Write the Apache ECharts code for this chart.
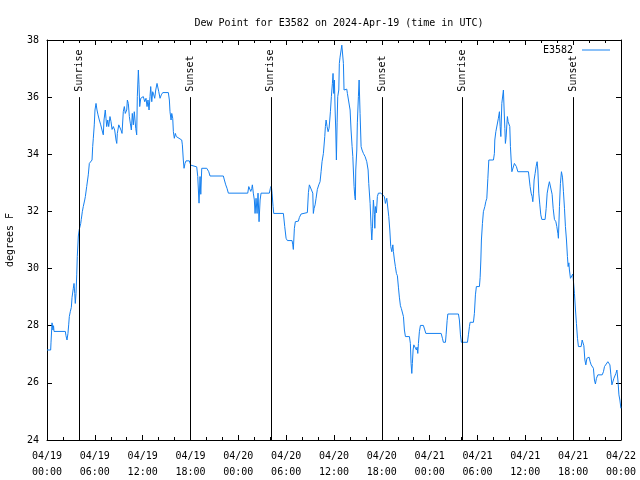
<!DOCTYPE html>
<html>
<head>
<meta charset="utf-8">
<script src="https://cdn.jsdelivr.net/npm/echarts@6/dist/echarts.min.js"></script>
<style>
html,body{margin:0;padding:0;background:#fff;}
#chart{width:640px;height:480px;}
</style>
</head>
<body>
<div id="chart"></div>
<script>
// ---- data ----
const titleText = 'Dew Point for E3582 on 2024-Apr-19 (time in UTC)';
const seriesName = 'E3582';
const yAxisName = 'degrees F';
// x tick labels every 6 hours from 2024-04-19 00:00 UTC
const tickLabels = ['04/19\n00:00','04/19\n06:00','04/19\n12:00','04/19\n18:00',
  '04/20\n00:00','04/20\n06:00','04/20\n12:00','04/20\n18:00',
  '04/21\n00:00','04/21\n06:00','04/21\n12:00','04/21\n18:00','04/22\n00:00'];
// sun events (hours since 04/19 00:00 UTC)
const sunNames = ['Sunrise','Sunset','Sunrise','Sunset','Sunrise','Sunset'];
const sunHours = [4.05, 17.98, 28.08, 42.03, 52.08, 66.04];
// observation times (hours since 04/19 00:00 UTC)
const hours = [0,0.46,0.5,0.63,0.75,0.82,0.88,2.3,2.38,2.51,2.63,2.72,2.8,2.92,3.05,3.14,3.3,3.39,3.48,3.55,3.64,3.73,3.8,3.93,4.05,4.23,4.3,4.43,4.55,4.73,4.81,4.98,5.18,5.31,5.65,5.73,5.81,5.93,6.02,6.15,6.27,6.4,6.56,6.74,6.9,7.06,7.15,7.31,7.4,7.49,7.62,7.74,7.9,8.03,8.16,8.32,8.49,8.66,8.75,8.82,9.0,9.16,9.28,9.41,9.57,9.7,9.82,10.0,10.08,10.2,10.33,10.45,10.58,10.7,10.83,10.95,11.13,11.25,11.33,11.46,11.54,11.63,11.76,11.92,12.08,12.26,12.42,12.55,12.67,12.8,12.92,13.01,13.14,13.26,13.39,13.51,13.64,13.8,13.93,14.02,14.18,14.34,14.52,15.22,15.35,15.43,15.56,15.65,15.77,15.85,15.97,16.1,16.22,16.9,16.98,17.1,17.19,17.31,17.44,17.85,18.03,18.19,18.78,18.91,19.07,19.2,19.29,19.41,20.04,20.29,20.45,22.12,22.25,22.42,22.58,22.75,25.18,25.31,25.43,25.56,25.68,25.76,25.88,26.01,26.1,26.22,26.35,26.47,26.6,26.73,26.85,27.89,28.02,28.14,28.23,28.36,28.44,29.65,29.82,29.99,30.15,30.74,30.83,30.9,31.03,31.15,31.53,31.66,31.87,31.99,32.66,32.79,32.91,33.16,33.34,33.41,33.5,33.63,33.75,33.91,34.09,34.25,34.38,34.5,34.67,34.84,34.92,35.01,35.13,35.26,35.38,35.47,35.55,35.67,35.8,35.88,35.97,36.05,36.14,36.22,36.3,36.39,36.47,36.6,36.67,36.76,36.89,36.98,37.1,37.18,37.26,37.39,37.6,37.68,37.85,38.02,38.14,38.27,38.36,38.43,38.52,38.61,38.68,38.73,38.86,38.93,39.06,39.15,39.27,39.4,39.52,39.69,39.9,40.11,40.28,40.36,40.53,40.65,40.74,40.82,40.94,41.07,41.12,41.19,41.32,41.44,41.57,41.69,41.87,42.12,42.32,42.45,42.62,42.75,42.87,43.0,43.12,43.25,43.38,43.45,43.58,43.7,43.83,43.95,44.08,44.2,44.33,44.45,44.58,44.71,44.83,44.96,45.46,45.58,45.67,45.76,45.83,45.92,46.01,46.26,46.34,46.42,46.51,46.59,46.71,46.84,47.21,47.39,47.52,49.44,49.6,49.72,49.98,50.06,50.19,50.28,51.61,51.73,51.86,51.98,52.74,52.86,52.99,53.07,53.49,53.61,53.74,53.86,54.24,54.33,54.42,54.49,54.62,54.74,54.92,55.04,55.17,55.3,55.42,56.0,56.12,56.17,56.3,56.5,56.62,56.75,56.84,56.93,57.05,57.18,57.25,57.34,57.43,57.5,57.59,57.68,57.75,57.84,57.97,58.05,58.13,58.22,58.31,58.51,58.63,58.76,58.88,59.06,60.39,60.51,60.6,60.73,60.85,60.94,61.02,61.1,61.23,61.35,61.48,61.57,61.69,61.82,61.94,62.07,62.48,62.61,62.74,62.9,63.02,63.2,63.27,63.36,63.49,63.65,63.83,63.95,64.08,64.15,64.28,64.4,64.53,64.66,64.78,64.91,65.03,65.16,65.28,65.37,65.46,65.53,65.66,65.75,65.87,65.96,66.04,66.16,66.29,66.41,66.54,66.66,67.0,67.13,67.25,67.34,67.47,67.59,67.72,67.84,68.0,68.13,68.26,68.42,68.54,68.67,68.79,68.92,69.1,69.64,69.8,69.93,70.18,70.35,70.48,70.61,70.73,70.86,70.98,71.11,71.24,71.36,71.49,71.61,71.74,71.86,71.99];
// dew point values (deg F)
const dewF = [27.15,27.15,27.4,28.1,27.85,28.0,27.8,27.8,27.65,27.5,27.73,28.03,28.32,28.49,28.64,28.99,29.31,29.48,29.13,28.78,29.13,29.78,30.42,31.14,31.37,31.58,31.72,31.99,32.17,32.4,32.52,32.87,33.28,33.68,33.8,34.27,34.56,35.03,35.55,35.78,35.55,35.38,35.2,35.03,34.85,34.68,35.2,35.55,35.26,34.97,35.2,34.97,35.32,35.14,34.87,34.97,34.85,34.5,34.38,34.73,35.03,35.03,34.85,34.73,35.49,35.67,35.43,35.55,35.9,35.78,35.32,35.09,34.85,35.43,35.03,35.49,34.91,34.68,36.02,36.95,36.43,35.67,35.96,35.96,36.02,35.84,35.96,35.67,35.9,35.55,36.02,36.37,35.84,36.19,36.08,35.96,36.25,36.48,36.54,36.19,35.96,36.08,36.16,36.16,35.9,35.49,35.2,35.43,35.26,34.79,34.56,34.73,34.62,34.5,34.33,33.8,33.51,33.68,33.77,33.77,33.62,33.56,33.56,33.22,32.29,33.22,32.6,33.51,33.51,33.39,33.24,33.24,33.1,32.93,32.81,32.64,32.64,32.87,32.93,32.7,32.8,32.93,32.64,32.4,31.93,32.46,31.93,32.64,31.64,32.4,32.64,32.64,32.81,32.89,32.64,32.17,31.93,31.93,31.47,31.06,30.98,30.98,30.83,30.67,31.41,31.64,31.66,31.79,31.91,31.96,31.96,32.66,32.93,32.93,32.64,31.93,32.1,32.23,32.46,32.77,32.93,33.04,33.39,33.74,34.03,34.62,34.97,35.2,34.97,34.79,34.91,35.2,35.49,36.02,36.48,36.83,36.13,36.6,35.55,34.85,33.8,35.1,36.02,36.25,37.18,37.4,37.65,37.82,37.86,37.18,36.25,36.31,36.28,36.13,36.08,35.55,34.85,34.27,33.92,33.45,32.87,32.52,32.4,33.45,34.15,35.1,36.02,36.6,35.43,34.27,34.15,34.03,33.92,33.74,33.45,32.98,32.28,31.47,31.0,31.41,32.4,31.9,31.41,32.17,31.95,32.52,32.64,32.69,32.64,32.64,32.52,32.28,32.46,32.4,31.82,31.35,30.77,30.59,30.83,30.6,30.3,30.07,29.83,29.75,29.35,29.0,28.7,28.6,28.58,28.32,27.85,27.62,27.62,27.38,26.68,26.33,26.68,27.15,27.33,27.33,27.15,27.25,27.03,27.38,27.79,28.01,28.01,27.85,27.73,27.73,27.56,27.42,27.42,27.68,28.18,28.41,28.41,28.2,27.68,27.42,27.42,27.68,27.97,28.12,28.12,28.43,29.08,29.37,29.37,29.69,30.3,31.0,31.58,31.99,32.17,32.34,32.46,33.16,33.8,33.8,34.03,34.5,34.79,34.79,35.26,35.49,34.97,34.62,35.78,35.8,36.25,35.55,34.9,34.38,34.6,35.03,35.32,35.14,35.2,34.97,34.27,33.8,33.39,33.39,33.68,33.7,33.57,33.39,33.39,33.33,32.87,32.64,32.52,32.34,32.64,33.1,33.33,33.57,33.74,33.45,32.64,32.23,31.88,31.72,31.72,32.1,32.64,32.89,33.04,33.1,33.05,32.6,32.11,31.72,31.64,31.47,31.23,31.06,32.17,32.98,33.39,33.2,32.69,32.11,31.47,31.0,30.42,30.07,30.2,29.95,29.66,29.6,29.7,29.81,29.54,29.13,28.55,28.08,27.56,27.27,27.27,27.5,27.53,27.3,26.8,26.63,26.86,26.9,26.9,26.74,26.63,26.63,26.51,26.1,25.96,26.16,26.28,26.28,26.39,26.57,26.57,26.74,26.8,26.63,26.28,25.93,25.87,26.16,26.2,26.33,26.45,26.1,25.58,25.4,25.11];

// ---- chart ----
const FONT = 'DejaVu Sans Mono';
const LINE_COLOR = '#1580f0';
const lineData = hours.map((h, i) => [h, dewF[i]]);
const sunLineTop = 36;   // where the sun lines stop
const chart = echarts.init(document.getElementById('chart'), null, {renderer: 'canvas'});
const xCommon = {
  type: 'value', min: 0, max: 72, interval: 6,
  axisLine: {show: true, onZero: false, lineStyle: {color: '#000', width: 1}},
  axisTick: {show: true, inside: true, length: 5, lineStyle: {color: '#000'}},
  minorTick: {show: true, splitNumber: 3, length: 3, lineStyle: {color: '#000'}},
  splitLine: {show: false}
};
const yCommon = {
  type: 'value', min: 24, max: 38, interval: 2,
  axisLine: {show: true, onZero: false, lineStyle: {color: '#000', width: 1}},
  axisTick: {show: true, inside: true, length: 5, lineStyle: {color: '#000'}},
  splitLine: {show: false}
};
const option = {
  animation: false,
  backgroundColor: '#fff',
  textStyle: {fontFamily: FONT},
  title: {
    text: titleText, left: 334, top: 13, textAlign: 'center',
    textStyle: {fontFamily: FONT, fontSize: 10, fontWeight: 'normal', color: '#000'}
  },
  legend: {
    data: [{name: seriesName, icon: 'rect'}], right: 30, top: 45, padding: 0, align: 'right',
    itemWidth: 28, itemHeight: 1,
    textStyle: {fontFamily: FONT, fontSize: 10, color: '#000', padding: [0, 4, 0, 0]}
  },
  grid: {left: 47, right: 19, top: 40, bottom: 40, containLabel: false, outerBoundsMode: 'none'},
  xAxis: [
    Object.assign({}, xCommon, {
      position: 'bottom',
      axisLabel: {show: true, margin: 8, fontFamily: FONT, fontSize: 10, color: '#000', lineHeight: 16,
        formatter: v => tickLabels[Math.round(v / 6)]}
    }),
    Object.assign({}, xCommon, {position: 'top', axisLabel: {show: false}})
  ],
  yAxis: [
    Object.assign({}, yCommon, {
      position: 'left', name: yAxisName, nameLocation: 'middle', nameGap: 32, nameRotate: 90,
      nameTextStyle: {fontFamily: FONT, fontSize: 10, color: '#000'},
      axisLabel: {show: true, margin: 8, fontFamily: FONT, fontSize: 10, color: '#000'}
    }),
    Object.assign({}, yCommon, {position: 'right', axisLabel: {show: false}})
  ],
  series: [
    {
      name: seriesName, type: 'line', data: lineData, showSymbol: false, symbol: 'none',
      lineStyle: {color: LINE_COLOR, width: 1}, itemStyle: {color: LINE_COLOR},
      markLine: {
        silent: true, symbol: ['none', 'none'], animation: false,
        label: {show: false},
        lineStyle: {color: '#000', type: 'solid', width: 1},
        data: sunHours.map(h => [{coord: [h, 24]}, {coord: [h, sunLineTop]}])
      }
    },
    {
      name: 'sun', type: 'scatter', symbolSize: 1, itemStyle: {color: 'rgba(0,0,0,0)'},
      data: sunHours.map((h, i) => ({value: [h, sunLineTop], name: sunNames[i]})),
      label: {
        show: true, formatter: '{b}', position: 'top', distance: 5,
        rotate: 90, align: 'left', verticalAlign: 'middle',
        fontFamily: FONT, fontSize: 10, color: '#000', opacity: 1
      },
      emphasis: {disabled: true},
      silent: true
    }
  ]
};
chart.setOption(option);
</script>
</body>
</html>
